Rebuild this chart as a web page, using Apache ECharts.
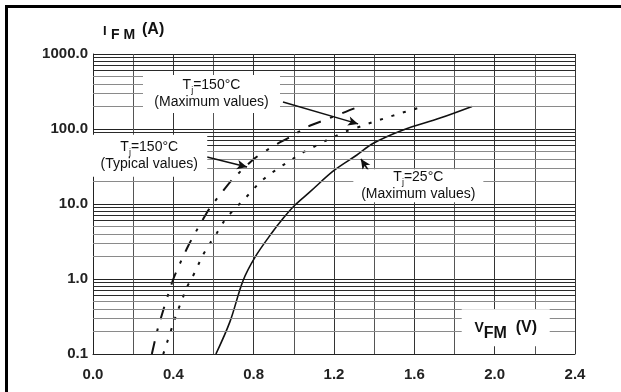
<!DOCTYPE html>
<html>
<head>
<meta charset="utf-8">
<script src="https://cdn.jsdelivr.net/npm/echarts@6/dist/echarts.min.js"></script>
<style>
  html, body { margin: 0; padding: 0; background: #fff; }
  #chart { width: 621px; height: 392px; }
</style>
</head>
<body>
<div id="chart"></div>
<script>
// Forward voltage VFM (V) vs forward current IFM (A), log scale
const vfTyp150 = [0.293, 0.325, 0.40, 0.475, 0.566, 0.60, 0.632, 0.692, 0.807, 0.915, 0.981, 1.064, 1.155, 1.305, 1.34];
const ifTyp150 = [0.1, 0.23, 1.0, 2.8, 7.6, 10.3, 13.2, 21, 41, 63, 78, 106, 132, 190, 200];

const vfMax150 = [0.35, 0.417, 0.443, 0.463, 0.493, 0.548, 0.583, 0.617, 0.647, 0.697, 0.742, 0.782, 0.827, 0.881, 0.931, 0.986, 1.041, 1.096, 1.155, 1.215, 1.27, 1.34, 1.394, 1.464, 1.524, 1.588, 1.648];
const ifMax150 = [0.1, 0.35, 0.52, 0.74, 1.03, 2.1, 3.0, 4.1, 5.6, 8.2, 10.8, 14, 19, 25, 31, 38.6, 48, 57, 69, 82, 95, 110, 124, 142, 160, 180, 200];

const vfMax25 = [0.612, 0.682, 0.747, 0.807, 0.89, 0.95, 1.006, 1.08, 1.2, 1.314, 1.396, 1.544, 1.728, 1.887];
const ifMax25 = [0.1, 0.27, 0.95, 1.96, 4.1, 6.6, 9.7, 14.5, 28, 45, 64.5, 97, 140, 200];

const xTickLabels = ['0.0', '0.4', '0.8', '1.2', '1.6', '2.0', '2.4'];
const yTickLabels = ['0.1', '1.0', '10.0', '100.0', '1000.0'];

// intermediate log grid lines (2..9 of each decade)
const minorGridMid = [2, 3, 4, 5, 20, 30, 40, 50, 0.2, 0.3, 0.4, 0.5, 200, 300, 400, 500];
const minorGridDark = [6, 7, 8, 9, 60, 70, 80, 90, 0.6, 0.7, 0.8, 0.9, 600, 700, 800, 900];

const FONT = 'Liberation Sans, Arial, Helvetica, sans-serif';

function zip(xs, ys) { return xs.map((x, i) => [x, ys[i]]); }

const noteRich = {
  t: { fontSize: 14, lineHeight: 17, fontFamily: FONT, color: '#111' },
  s: { fontSize: 9, lineHeight: 5, padding: [11, 0, 0, 0], fontFamily: FONT, color: '#111' }
};

function note(coord, size, text) {
  return {
    coord: coord,
    symbol: 'rect',
    symbolSize: size,
    itemStyle: { color: '#fff' },
    label: { show: true, position: 'inside', formatter: text, rich: noteRich, align: 'center' }
  };
}

const chart = echarts.init(document.getElementById('chart'), null, { renderer: 'canvas' });

const bold = (size, extra) => Object.assign({ fontSize: size, fontWeight: 'bold', fontFamily: FONT, fill: '#111' }, extra || {});

const option = {
  backgroundColor: '#fff',
  animation: false,
  grid: { left: 93, right: 46, top: 54, bottom: 38 },
  xAxis: {
    type: 'value', min: 0, max: 2.4, interval: 0.4,
    axisLine: { show: true, lineStyle: { color: '#222', width: 1 } },
    axisTick: { show: false },
    axisLabel: {
      margin: 13, fontSize: 15, fontWeight: 'bold', fontFamily: FONT, color: '#222',
      formatter: v => xTickLabels[Math.round(v / 0.4)]
    },
    splitLine: { show: true, lineStyle: { color: '#333', width: 1 } },
    minorTick: { show: false, splitNumber: 2 },
    minorSplitLine: { show: true, lineStyle: { color: '#555', width: 1 } }
  },
  yAxis: {
    type: 'log', logBase: 10, min: 0.1, max: 1000, splitNumber: 4,
    axisLine: { show: true, lineStyle: { color: '#222', width: 1 } },
    axisTick: { show: false },
    axisLabel: {
      margin: 5, fontSize: 15, fontWeight: 'bold', fontFamily: FONT, color: '#222',
      formatter: v => yTickLabels[Math.round(Math.log10(v)) + 1]
    },
    splitLine: { show: true, lineStyle: { color: '#222', width: 1 } }
  },
  series: [
    {
      name: 'grid', type: 'line', data: [], silent: true, z: 1,
      markLine: {
        silent: true, symbol: 'none', label: { show: false },
        data: minorGridMid.map(v => ({ yAxis: v, lineStyle: { color: '#8a8a8a', width: 1, type: 'solid' } }))
          .concat(minorGridDark.map(v => ({ yAxis: v, lineStyle: { color: '#2a2a2a', width: 1, type: 'solid' } })))
      }
    },
    {
      name: 'notes', type: 'line', data: [], silent: true, z: 2,
      markPoint: {
        silent: true,
        data: [
          note([0.59, 293], [137, 38], '{t|T}{s|j}{t|=150°C}\n{t|(Maximum values)}'),
          note([0.28, 44], [116, 42], '{t|T}{s|j}{t|=150°C}\n{t|(Typical values)}'),
          note([1.62, 17.5], [130, 33], '{t|T}{s|j}{t|=25°C}\n{t|(Maximum values)}'),
          {
            coord: [2.055, 0.224], symbol: 'rect', symbolSize: [88, 37],
            itemStyle: { color: '#fff' },
            label: {
              show: true, position: 'inside',
              formatter: '{v|V}{sub|FM}{u|  (V)}',
              rich: {
                v: { fontSize: 14, fontWeight: 'bold', fontFamily: FONT, color: '#111', lineHeight: 18 },
                sub: { fontSize: 16, fontWeight: 'bold', fontFamily: FONT, color: '#111', lineHeight: 6, padding: [12, 0, 0, 0] },
                u: { fontSize: 16, fontWeight: 'bold', fontFamily: FONT, color: '#111', lineHeight: 18 }
              }
            }
          }
        ]
      }
    },
    {
      name: 'arrows', type: 'line', data: [], silent: true, z: 4,
      markLine: {
        silent: true, symbol: ['none', 'arrow'], symbolSize: [7, 10],
        label: { show: false },
        lineStyle: { color: '#111', width: 1.5, type: 'solid' },
        data: [
          [{ coord: [0.568, 42.3] }, { coord: [0.767, 31.1] }],
          [{ coord: [0.946, 229] }, { coord: [1.32, 117] }],
          [{ coord: [1.429, 16.3] }, { coord: [1.334, 39.8] }]
        ]
      }
    },
    {
      name: 'Tj=150°C (Typical values)', type: 'line', z: 3,
      data: zip(vfTyp150, ifTyp150), showSymbol: false, smooth: 0.2,
      lineStyle: { color: '#111', width: 2, type: [13, 10, 3, 10], cap: 'butt' }
    },
    {
      name: 'Tj=150°C (Maximum values)', type: 'line', z: 3,
      data: zip(vfMax150, ifMax150), showSymbol: false, smooth: 0.2,
      lineStyle: { color: '#111', width: 2, type: [3, 9], cap: 'butt' }
    },
    {
      name: 'Tj=25°C (Maximum values)', type: 'line', z: 3,
      data: zip(vfMax25, ifMax25), showSymbol: false, smooth: 0.35,
      lineStyle: { color: '#111', width: 1.6, type: 'solid' }
    }
  ],
  graphic: [
    { type: 'rect', left: 5, top: 5, shape: { width: 616, height: 3 }, style: { fill: '#000' }, z: 10 },
    { type: 'rect', left: 5, top: 5, shape: { width: 3, height: 387 }, style: { fill: '#000' }, z: 10 },
    // axis title IFM (A)
    { type: 'text', left: 103, top: 25, z: 10, style: Object.assign({ text: 'I' }, bold(13)) },
    { type: 'text', left: 111, top: 28, z: 10, style: Object.assign({ text: 'F M' }, bold(14)) },
    { type: 'text', left: 142, top: 22, z: 10, style: Object.assign({ text: '(A)' }, bold(16)) }
  ]
};

chart.setOption(option);
</script>
</body>
</html>
